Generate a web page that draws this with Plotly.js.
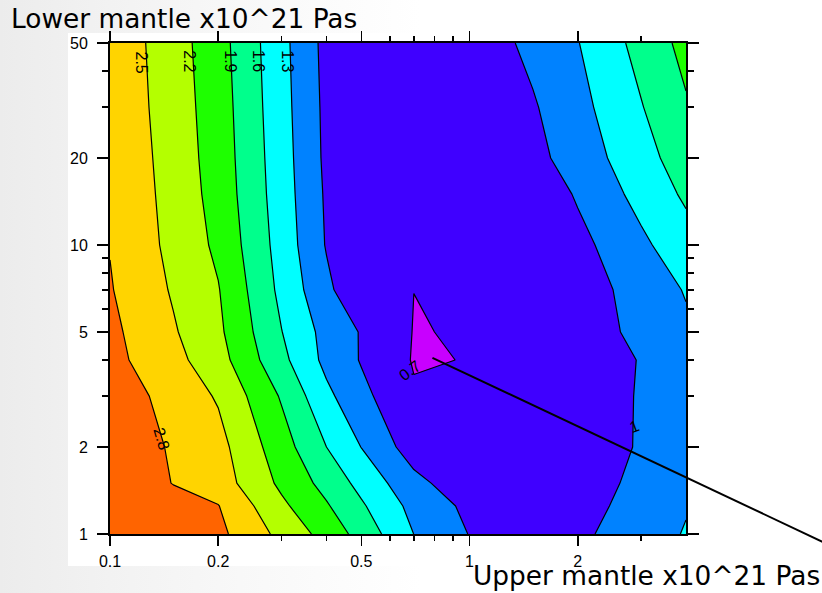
<!DOCTYPE html>
<html><head><meta charset="utf-8">
<script src="https://cdn.plot.ly/plotly-3.0.1.min.js"></script>
<style>
html,body{margin:0;padding:0;}
body{width:822px;height:593px;overflow:hidden;position:relative;
background:linear-gradient(to right,#ececec 0px,#f2f2f2 110px,#f8f8f8 240px,#ffffff 420px);}
#white{position:absolute;left:68px;top:33px;width:754px;height:533px;background:#fff;}
#chart{position:absolute;left:0;top:0;width:822px;height:593px;}
</style></head>
<body><div id="white"></div><div id="chart"></div>
<script>
// Upper mantle viscosity (x axis) and lower mantle viscosity (y axis), x10^21 Pa s
var upperMantle = [0.1, 0.15, 0.2, 0.3, 0.4, 0.5, 0.7, 1, 1.5, 2, 3, 4];
var lowerMantle = [1, 1.25, 1.5, 2, 3, 4, 5, 7, 10, 15, 20, 30, 50];
// misfit values, one row per lower-mantle value
var misfit = [
  [3.65, 3.20, 2.873, 2.42, 2.09, 1.79, 1.298, 0.99, 0.85, 0.94, 1.16, 1.32],
  [3.30, 2.92, 2.81, 2.26, 1.93, 1.64, 1.21, 0.93, 0.82, 0.92, 1.08, 1.28],
  [3.06, 2.79, 2.65, 2.14, 1.80, 1.51, 1.09, 0.80, 0.80, 0.90, 1.05, 1.27],
  [3.05, 2.76, 2.60, 2.03, 1.60, 1.295, 0.85, 0.78, 0.80, 0.87, 1.02, 1.15],
  [2.98, 2.69, 2.47, 1.87, 1.37, 1.08, 0.73, 0.75, 0.78, 0.85, 1.02, 1.15],
  [2.89, 2.59, 2.32, 1.68, 1.22, 0.98, 0.68, 0.707, 0.76, 0.82, 1.015, 1.20],
  [2.87, 2.53, 2.26, 1.607, 1.20, 0.98, 0.69, 0.717, 0.76, 0.82, 1.087, 1.25],
  [2.82, 2.47, 2.216, 1.525, 1.069, 0.75, 0.701, 0.78, 0.78, 0.84, 1.127, 1.32],
  [2.79, 2.42, 2.14, 1.48, 0.98, 0.85, 0.78, 0.76, 0.75, 0.91, 1.24, 1.48],
  [2.78, 2.39, 2.09, 1.447, 0.96, 0.84, 0.78, 0.78, 0.773, 1.034, 1.397, 1.648],
  [2.77, 2.37, 2.07, 1.431, 0.94, 0.83, 0.77, 0.78, 0.91, 1.137, 1.484, 1.755],
  [2.74, 2.35, 2.05, 1.41, 0.93, 0.82, 0.76, 0.78, 0.97, 1.205, 1.584, 1.87],
  [2.72, 2.33, 2.02, 1.39, 0.91, 0.80, 0.75, 0.80, 1.077, 1.289, 1.70, 1.99]
];
var levelStart = 0.7, levelEnd = 2.8, levelStep = 0.3;
var bandColors = ['#c800ff', '#3f00ff', '#0082ff', '#00ffff', '#00ff8c', '#1eff00', '#b4ff00', '#ffd400', '#ff6400'];
var xTickVals = [0.1, 0.2, 0.5, 1, 2];
var xTickText = ['0.1', '0.2', '0.5', '1', '2'];
var xMinorVals = [0.3, 0.4, 0.6, 0.7, 0.8, 0.9, 3];
var yTickVals = [1, 2, 5, 10, 20, 50];
var yTickText = ['1', '2', '5', '10', '20', '50'];
var yMinorVals = [3, 4, 6, 7, 8, 9, 30, 40];
var labelTexts = ['2.5', '2.2', '1.9', '1.6', '1.3', '2.8', '0.7', '1'];

var colorscale = bandColors.map(function (c, i) { return [i / (bandColors.length - 1), c]; });

var trace = {
  type: 'contour',
  x: upperMantle, y: lowerMantle, z: misfit,
  autocontour: false,
  contours: {start: levelStart, end: levelEnd, size: levelStep, coloring: 'fill', showlines: true},
  colorscale: colorscale,
  showscale: false,
  line: {color: '#000', width: 1.2, smoothing: 0},
  hoverinfo: 'skip'
};

// label placement (paper coords) and rotation
var labelPos = [
  [0.0547, 0.9613, 90], [0.139, 0.9627, 90], [0.2102, 0.9627, 90], [0.2588, 0.9633, 90],
  [0.3087, 0.9633, 90], [0.0898, 0.1949, 74], [0.5211, 0.332, -37], [0.9102, 0.2185, -20]
];
var annotations = labelTexts.map(function (t, i) {
  return {text: t, xref: 'paper', yref: 'paper', x: labelPos[i][0], y: labelPos[i][1],
    textangle: labelPos[i][2], showarrow: false, xanchor: 'center', yanchor: 'middle',
    font: {family: 'Liberation Sans, Arial, sans-serif', size: 16, color: '#000'}};
});
annotations.push({text: 'Lower mantle x10^21 Pas', xref: 'paper', yref: 'paper', x: -0.1737, y: 1.0489,
  xanchor: 'left', yanchor: 'middle', showarrow: false, borderpad: 0,
  font: {family: 'DejaVu Sans', size: 26.4, color: '#000'}});
annotations.push({text: 'Upper mantle x10^21 Pas', xref: 'paper', yref: 'paper', x: 0.6283, y: -0.0855,
  xanchor: 'left', yanchor: 'middle', showarrow: false, borderpad: 0,
  font: {family: 'DejaVu Sans', size: 26.4, color: '#000'}});

var axisCommon = {
  type: 'log', tickmode: 'array', ticks: 'outside', tickwidth: 1.5, tickcolor: '#000',
  showline: true, linewidth: 2, linecolor: '#000', mirror: 'ticks', showgrid: false, zeroline: false,
  tickfont: {family: 'Liberation Sans, Arial, sans-serif', size: 16, color: '#000'}
};
var layout = {
  width: 822, height: 593,
  margin: {l: 110, r: 136.3, t: 43, b: 59, pad: 0},
  paper_bgcolor: 'rgba(0,0,0,0)', plot_bgcolor: 'rgba(0,0,0,0)',
  showlegend: false,
  xaxis: Object.assign({}, axisCommon, {
    range: [-1, Math.log10(4)], tickvals: xTickVals, ticktext: xTickText, ticklen: 10,
    ticklabelstandoff: 2,
    minor: {tickmode: 'array', tickvals: xMinorVals, ticks: 'outside', ticklen: 5, tickwidth: 1.5, tickcolor: '#000', showgrid: false}
  }),
  yaxis: Object.assign({}, axisCommon, {
    range: [0, Math.log10(50)], tickvals: yTickVals, ticktext: yTickText, ticklen: 11,
    ticklabelstandoff: 6,
    minor: {tickmode: 'array', tickvals: yMinorVals, ticks: 'outside', ticklen: 6, tickwidth: 1.5, tickcolor: '#000', showgrid: false}
  }),
  annotations: annotations,
  shapes: [{type: 'line', xref: 'paper', yref: 'paper', x0: 0.5598, y0: 0.3588, x1: 1.2507, y1: -0.0234,
    line: {color: '#000', width: 2}}]
};
Plotly.newPlot('chart', [trace], layout, {displayModeBar: false, staticPlot: true});
</script>
</body></html>
